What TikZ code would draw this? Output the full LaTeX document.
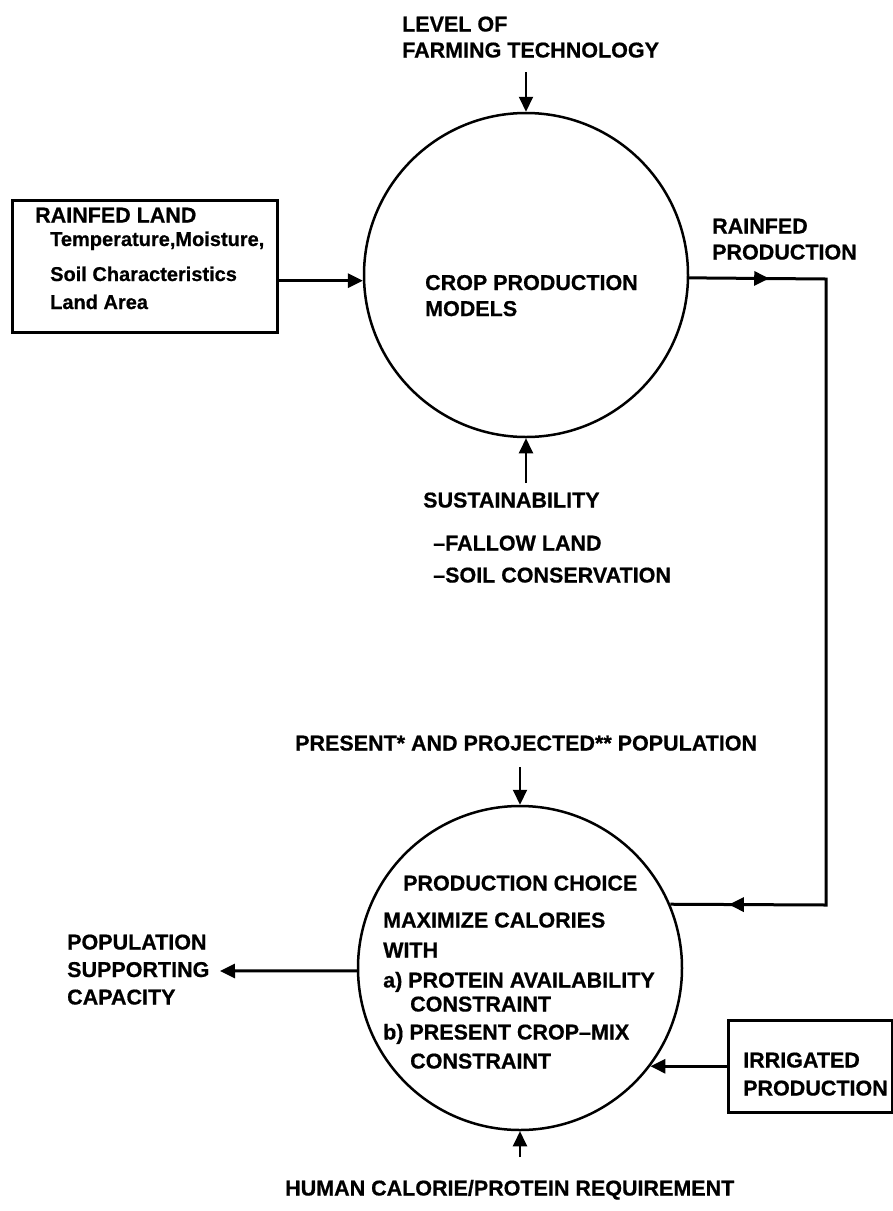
\documentclass[tikz,border=0pt]{standalone}
\usepackage{fontspec}
\setmainfont{Liberation Sans}[BoldFeatures={FakeBold=0.6}]
\usetikzlibrary{arrows.meta,decorations.markings}
\begin{document}
\begin{tikzpicture}[x=1pt,y=-1pt,
 txt/.style={font=\bfseries\fontsize{21.5}{26}\selectfont, inner sep=0pt, anchor=base west},
 sub/.style={font=\bfseries\fontsize{20}{24}\selectfont, inner sep=0pt, anchor=base west},
 bubble/.style={circle, draw, line width=2.5pt, minimum size=324pt, inner sep=0pt},
 boxed/.style={draw, line width=3pt, inner sep=0pt},
 tipA/.style={-{Triangle[length=15pt,width=14pt]}},
 heavy/.style={line width=3pt},
 light/.style={line width=2pt},
]
\fill[white] (0,0) rectangle (893,1211);
\useasboundingbox (0,0) rectangle (893,1211);

% circles
\node[bubble] (c1) at (526,275) {};
\node[bubble] (c2) at (520,968) {};

% boxes
\node[boxed, minimum width=265pt, minimum height=132pt] (rf) at (144.5,266) {};
\node[boxed, minimum width=164pt, minimum height=92pt] (irr) at (810,1066) {};

% texts (multi-line nodes: coordinate = baseline of the last line)
\node[txt, align=left] (lvl) at (402,57.5) {LEVEL OF\\FARMING TECHNOLOGY};
\node[txt] (rfl) at (35,222.5) {RAINFED LAND};
\node[sub] (rf1) at (50,246) {Temperature,Moisture,};
\node[sub] (rf2) at (50,281) {Soil Characteristics};
\node[sub] (rf3) at (50,309) {Land Area};
\node[txt, align=left] (cpm) at (425,316) {CROP PRODUCTION\\MODELS};
\node[txt, align=left] (rfp) at (712,259.5) {RAINFED\\PRODUCTION};
\node[txt] (sus) at (423,507.5) {SUSTAINABILITY};
\node[txt] (fal) at (433,550.5) {--FALLOW LAND};
\node[txt] (soil) at (433,582.5) {--SOIL CONSERVATION};
\node[txt] (pop) at (295,750.5) {PRESENT* AND PROJECTED** POPULATION};
\node[txt, align=left] (psc) at (67,1004.5) {POPULATION\\[1.5pt]SUPPORTING\\[1.5pt]CAPACITY};
\node[txt] (pc) at (403,890.5) {PRODUCTION CHOICE};
\node[txt] (mx) at (383,927.5) {MAXIMIZE CALORIES};
\node[txt] (wi) at (383,957.5) {WITH};
\node[txt] (ca) at (383,987.5) {a) PROTEIN AVAILABILITY};
\node[txt] (ca2) at (410,1011.5) {CONSTRAINT};
\node[txt] (cb) at (383,1039.5) {b) PRESENT CROP--MIX};
\node[txt] (cb2) at (410,1068.5) {CONSTRAINT};
\node[txt, align=left] (irt) at (743,1095.5) {IRRIGATED\\[2pt]PRODUCTION};
\node[txt] (hum) at (285,1195.5) {HUMAN CALORIE/PROTEIN REQUIREMENT};

% free ends
\coordinate (lvlend) at (526,72);
\coordinate (susend) at (526,483);
\coordinate (popend) at (520,767);
\coordinate (humend) at (520,1157);
\coordinate (pscend) at (220,971);
\coordinate (r1) at (826,279);
\coordinate (r2) at (826,905);

% connectors
\draw[light, tipA] (lvlend) -- (c1.north);
\draw[light, tipA] (susend) -- (c1.south);
\draw[light, tipA] (popend) -- (c2.north);
\draw[light, tipA] (humend) -- (c2.south);
\draw[heavy, tipA] (rf.east |- c1.182) -- (c1.182);
\draw[heavy, tipA] (c2.181) -- (pscend);
\draw[heavy, tipA] (irr.west |- c2.-37) -- (c2.-37);
\draw[heavy, line join=miter, postaction={decorate},
  decoration={markings,
    mark=at position 80pt with {\arrow{Triangle[length=15pt,width=14pt]}},
    mark=at position 860pt with {\arrow{Triangle[length=15pt,width=14pt]}}}]
  (c1.-1.5) -- (r1) -- (r2) -- (c2.23);
\end{tikzpicture}
\end{document}
